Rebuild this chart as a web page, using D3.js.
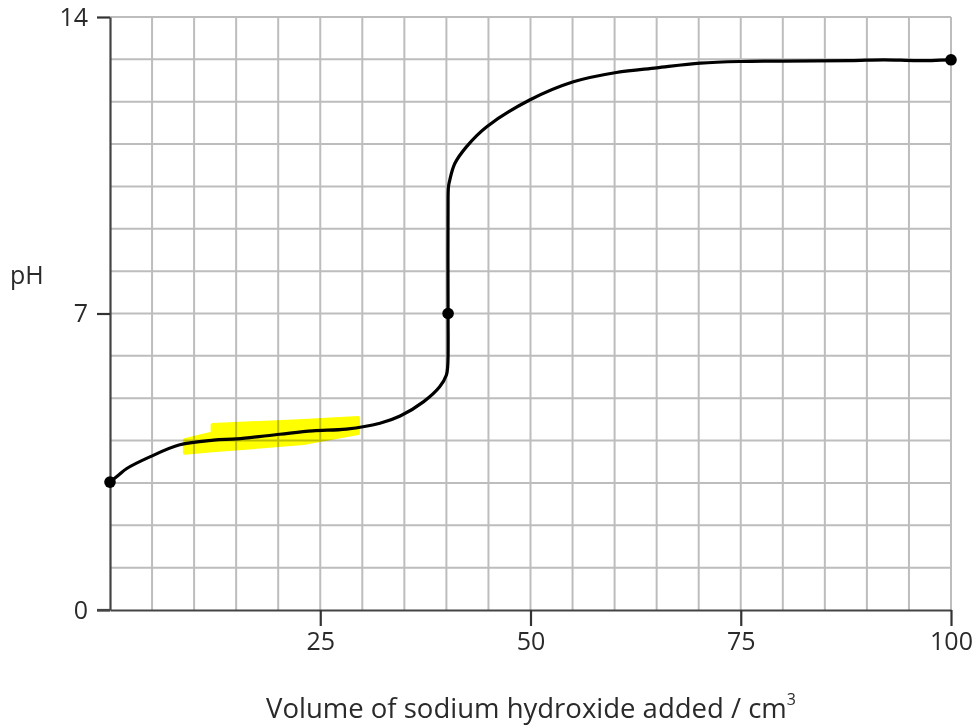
<!DOCTYPE html>
<html>
<head>
<meta charset="utf-8">
<script src="https://cdn.jsdelivr.net/npm/d3@7/dist/d3.min.js"></script>
<style>
  html, body { margin: 0; padding: 0; background: #fff; }
  text { font-family: "Open Sans", "Noto Sans", sans-serif; fill: #2a2a2a; }
</style>
</head>
<body>
<svg id="chart" width="978" height="726"></svg>
<script>
// ---- data ----
const volume = [0, 1.0, 2.0, 4.8, 8.3, 12.3, 15.1, 20.2, 24.1, 28.1, 32.1, 34.5, 37.3, 39.2, 40.0, 40.15, 40.2, 40.2, 40.2, 40.25, 40.4, 41.0, 42.4, 44.8, 49.9, 55.1, 60.2, 65.0, 70.2, 75, 80, 88, 92, 96, 100];
const pH     = [3.02, 3.18, 3.34, 3.62, 3.90, 4.01, 4.04, 4.15, 4.23, 4.27, 4.41, 4.58, 4.92, 5.27, 5.55, 5.74, 6.0, 7.0, 9.76, 10.0, 10.15, 10.54, 10.94, 11.41, 12.04, 12.47, 12.69, 12.80, 12.91, 12.95, 12.96, 12.97, 12.99, 12.97, 12.99];
const dotVolume = [0, 40.2, 100];
const dotPH     = [3.02, 7.0, 12.99];
const xTicks = [25, 50, 75, 100];
const yTicks = [0, 7, 14];
const hlVolume = [8.9, 12.2, 12.2, 23.0, 29.5];
const hlTop    = [4.01, 4.17, 4.37, 4.46, 4.53];
const hlBottom = [3.71, 3.77, 3.77, 3.94, 4.18];
const xLabel = "Volume of sodium hydroxide added / cm";
const xLabelSup = "3";
const yLabel = "pH";

// ---- layout ----
const svg = d3.select("#chart");
const x = d3.scaleLinear().domain([0, 100]).range([110, 951]);
const y = d3.scaleLinear().domain([0, 14]).range([610, 17]);

// grid
const grid = svg.append("g");
grid.selectAll("line.v").data(d3.range(5, 101, 5)).join("line")
  .attr("x1", d => x(d)).attr("x2", d => x(d))
  .attr("y1", y(0)).attr("y2", y(14))
  .attr("stroke", "#bdbdbd").attr("stroke-width", 2);
grid.selectAll("line.h").data(d3.range(1, 15, 1)).join("line")
  .attr("x1", x(0)).attr("x2", x(100))
  .attr("y1", d => y(d)).attr("y2", d => y(d))
  .attr("stroke", "#bdbdbd").attr("stroke-width", 2);

// highlight
const hl = hlVolume.map((v, i) => ({v, t: hlTop[i], b: hlBottom[i]}));
svg.append("path")
  .datum(hl)
  .attr("d", d3.area().x(d => x(d.v)).y0(d => y(d.b)).y1(d => y(d.t)).curve(d3.curveLinear))
  .attr("fill", "#ffff00")
  .attr("stroke", "#ffff00").attr("stroke-width", 4).attr("stroke-linejoin", "round")
  .style("mix-blend-mode", "multiply");

// axes
const xAxis = d3.axisBottom(x).tickValues(xTicks).tickSize(16).tickPadding(6).tickSizeOuter(0);
const yAxis = d3.axisLeft(y).tickValues(yTicks).tickSize(13).tickPadding(9).tickSizeOuter(0);
const gx = svg.append("g").attr("transform", `translate(0,${y(0)})`).call(xAxis);
const gy = svg.append("g").attr("transform", `translate(${x(0)},0)`).call(yAxis);
[gx, gy].forEach(g => {
  g.select(".domain").attr("stroke", "#444").attr("stroke-width", 2.2);
  g.selectAll(".tick line").attr("stroke", "#333").attr("stroke-width", 2.2);
  g.selectAll(".tick text").style("font-size", "25px").attr("fill", "#2a2a2a")
   .style("font-family", '"Open Sans", sans-serif');
});
// extend bottom axis line to the y tick at 0
svg.append("line").attr("x1", x(0) - 13).attr("x2", x(0)).attr("y1", y(0)).attr("y2", y(0))
  .attr("stroke", "#444").attr("stroke-width", 2.2);

// curve
const pts = volume.map((v, i) => [v, pH[i]]);
svg.append("path").datum(pts)
  .attr("d", d3.line().x(d => x(d[0])).y(d => y(d[1])).curve(d3.curveCatmullRom.alpha(0.5)))
  .attr("fill", "none").attr("stroke", "#000").attr("stroke-width", 3.2)
  .attr("stroke-linejoin", "round").attr("stroke-linecap", "round");

// dots
svg.selectAll("circle.dot").data(dotVolume.map((v, i) => [v, dotPH[i]])).join("circle")
  .attr("cx", d => x(d[0])).attr("cy", d => y(d[1])).attr("r", 5.8).attr("fill", "#000");

// labels
const xl = svg.append("text").attr("x", 531).attr("y", 718).attr("text-anchor", "middle")
  .style("font-size", "27.5px");
xl.append("tspan").text(xLabel);
xl.append("tspan").text(xLabelSup).attr("dy", -13).style("font-size", "16px");
svg.append("text").attr("x", 10).attr("y", 284).style("font-size", "25px").text(yLabel);
</script>
</body>
</html>
